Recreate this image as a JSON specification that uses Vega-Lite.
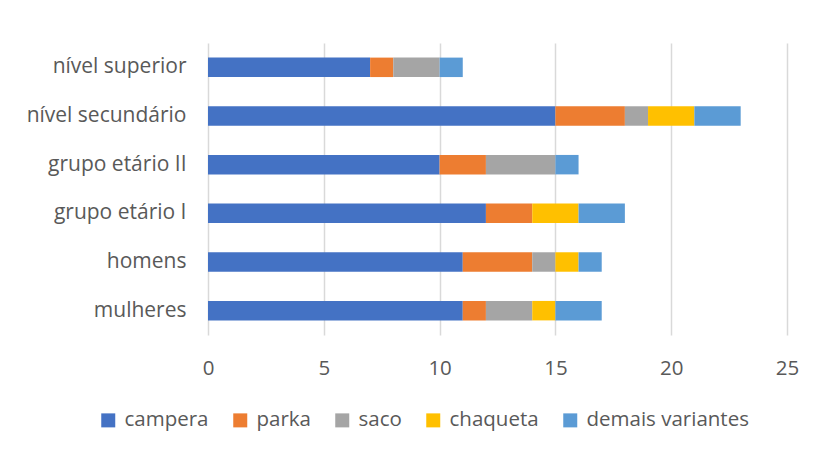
{
  "$schema": "https://vega.github.io/schema/vega-lite/v6.json",
  "width": 579,
  "height": 292,
  "autosize": {"type": "none"},
  "padding": {"left": 208, "top": 43, "right": 30, "bottom": 115},
  "background": "white",
  "data": {
    "values": [
      {"grupo": "nível superior", "tipo": "campera", "k": 1, "valor": 7},
      {"grupo": "nível superior", "tipo": "parka", "k": 2, "valor": 1},
      {"grupo": "nível superior", "tipo": "saco", "k": 3, "valor": 2},
      {"grupo": "nível superior", "tipo": "chaqueta", "k": 4, "valor": 0},
      {"grupo": "nível superior", "tipo": "demais variantes", "k": 5, "valor": 1},
      {"grupo": "nível secundário", "tipo": "campera", "k": 1, "valor": 15},
      {"grupo": "nível secundário", "tipo": "parka", "k": 2, "valor": 3},
      {"grupo": "nível secundário", "tipo": "saco", "k": 3, "valor": 1},
      {"grupo": "nível secundário", "tipo": "chaqueta", "k": 4, "valor": 2},
      {"grupo": "nível secundário", "tipo": "demais variantes", "k": 5, "valor": 2},
      {"grupo": "grupo etário II", "tipo": "campera", "k": 1, "valor": 10},
      {"grupo": "grupo etário II", "tipo": "parka", "k": 2, "valor": 2},
      {"grupo": "grupo etário II", "tipo": "saco", "k": 3, "valor": 3},
      {"grupo": "grupo etário II", "tipo": "chaqueta", "k": 4, "valor": 0},
      {"grupo": "grupo etário II", "tipo": "demais variantes", "k": 5, "valor": 1},
      {"grupo": "grupo etário I", "tipo": "campera", "k": 1, "valor": 12},
      {"grupo": "grupo etário I", "tipo": "parka", "k": 2, "valor": 2},
      {"grupo": "grupo etário I", "tipo": "saco", "k": 3, "valor": 0},
      {"grupo": "grupo etário I", "tipo": "chaqueta", "k": 4, "valor": 2},
      {"grupo": "grupo etário I", "tipo": "demais variantes", "k": 5, "valor": 2},
      {"grupo": "homens", "tipo": "campera", "k": 1, "valor": 11},
      {"grupo": "homens", "tipo": "parka", "k": 2, "valor": 3},
      {"grupo": "homens", "tipo": "saco", "k": 3, "valor": 1},
      {"grupo": "homens", "tipo": "chaqueta", "k": 4, "valor": 1},
      {"grupo": "homens", "tipo": "demais variantes", "k": 5, "valor": 1},
      {"grupo": "mulheres", "tipo": "campera", "k": 1, "valor": 11},
      {"grupo": "mulheres", "tipo": "parka", "k": 2, "valor": 1},
      {"grupo": "mulheres", "tipo": "saco", "k": 3, "valor": 2},
      {"grupo": "mulheres", "tipo": "chaqueta", "k": 4, "valor": 1},
      {"grupo": "mulheres", "tipo": "demais variantes", "k": 5, "valor": 2}
    ]
  },
  "mark": {"type": "bar", "height": {"band": 0.4}},
  "encoding": {
    "y": {
      "field": "grupo",
      "type": "nominal",
      "sort": ["nível superior", "nível secundário", "grupo etário II", "grupo etário I", "homens", "mulheres"],
      "scale": {"paddingInner": 0, "paddingOuter": 0},
      "axis": {"title": null, "domain": false, "ticks": false, "labelPadding": 22, "labelFontSize": 21, "labelColor": "#595959", "labelFont": "Open Sans", "labelLimit": 300}
    },
    "x": {
      "field": "valor",
      "type": "quantitative",
      "stack": "zero",
      "scale": {"domain": [0, 25], "nice": false},
      "axis": {"title": null, "values": [0, 5, 10, 15, 20, 25], "domain": false, "ticks": false, "grid": true, "gridColor": "#D9D9D9", "gridWidth": 1.5, "labelFlush": false, "labelPadding": 23, "labelFontSize": 20.5, "labelColor": "#595959", "labelFont": "Open Sans"}
    },
    "color": {
      "field": "tipo",
      "type": "nominal",
      "sort": ["campera", "parka", "saco", "chaqueta", "demais variantes"],
      "scale": {"domain": ["campera", "parka", "saco", "chaqueta", "demais variantes"], "range": ["#4472C4", "#ED7D31", "#A5A5A5", "#FFC000", "#5B9BD5"]},
      "legend": {"title": null, "orient": "none", "legendX": -110, "legendY": 367, "direction": "horizontal", "symbolType": "square", "symbolSize": 196, "symbolStrokeWidth": 0, "labelFontSize": 20.5, "labelColor": "#595959", "labelFont": "Open Sans", "labelLimit": 300, "columnPadding": 21, "labelOffset": 6}
    },
    "order": {"field": "k", "type": "quantitative"}
  },
  "config": {"view": {"stroke": null}}
}
